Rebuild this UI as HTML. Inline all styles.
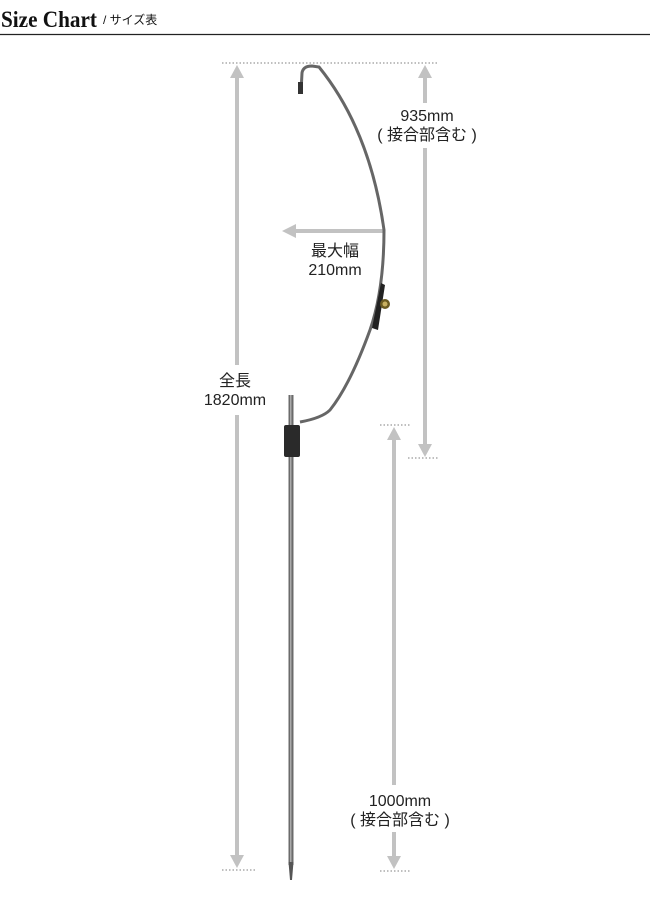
<!DOCTYPE html>
<html><head><meta charset="utf-8"><style>
html,body{margin:0;padding:0;background:#fff;width:650px;height:900px;overflow:hidden}
</style></head><body>
<svg width="650" height="900" viewBox="0 0 650 900" xmlns="http://www.w3.org/2000/svg">
<text x="1" y="27" font-family="Liberation Serif, serif" font-size="23" font-weight="bold" textLength="96" lengthAdjust="spacingAndGlyphs" fill="#111">Size Chart</text>
<text x="103" y="24" font-family="Liberation Sans, 'Noto Sans CJK JP', sans-serif" font-size="12" fill="#111">/ サイズ表</text>
<line x1="0" y1="34.5" x2="650" y2="34.5" stroke="#222" stroke-width="1.2"/>
<g stroke="#999" stroke-width="1.2" stroke-dasharray="1.5 2">
<line x1="222" y1="63" x2="438" y2="63"/>
<line x1="222" y1="870" x2="255" y2="870"/>
<line x1="408" y1="458" x2="438" y2="458"/>
<line x1="380" y1="425" x2="410" y2="425"/>
<line x1="380" y1="871" x2="410" y2="871"/>
</g>
<g stroke="#c2c2c2" stroke-width="4" fill="none">
<line x1="237" y1="76" x2="237" y2="365"/>
<line x1="237" y1="415" x2="237" y2="860"/>
<line x1="425" y1="76" x2="425" y2="103"/>
<line x1="425" y1="148" x2="425" y2="448"/>
<line x1="394" y1="435" x2="394" y2="785"/>
<line x1="394" y1="832" x2="394" y2="860"/>
<line x1="294" y1="231" x2="385" y2="231"/>
</g>
<g fill="#c2c2c2">
<polygon points="237,65 230,78 244,78"/>
<polygon points="237,868 230,855 244,855"/>
<polygon points="425,65 418,78 432,78"/>
<polygon points="425,457 418,444 432,444"/>
<polygon points="394,427 387,440 401,440"/>
<polygon points="394,869 387,856 401,856"/>
<polygon points="282,231 296,224 296,238"/>
</g>
<g font-family="Liberation Sans, 'Noto Sans CJK JP', sans-serif" font-size="16" fill="#222" text-anchor="middle">
<text x="427" y="121">935mm</text>
<text x="427" y="140">( 接合部含む )</text>
<text x="335" y="256">最大幅</text>
<text x="335" y="275">210mm</text>
<text x="235" y="386">全長</text>
<text x="235" y="405">1820mm</text>
<text x="400" y="806">1000mm</text>
<text x="400" y="825">( 接合部含む )</text>
</g>
<path d="M301,92 L302,73 Q303,66 312,66 L319,67 Q370,130 384,230 Q384,290 370,330 Q350,385 330,410 Q322,418 300,422" stroke="#666" stroke-width="3" fill="none"/>
<rect x="298" y="82" width="5" height="12" fill="#333"/>
<rect x="288.5" y="395" width="5" height="470" fill="#6b6b6b"/>
<rect x="290" y="395" width="1.5" height="470" fill="#aaa"/>
<polygon points="288.5,862 293.5,862 292,880 290,880" fill="#555"/>
<rect x="284" y="425" width="16" height="32" rx="2" fill="#2a2a2a"/>
<path d="M381,283 L385,285 L378,330 L372,328 Z" fill="#222"/>
<circle cx="385" cy="304" r="5" fill="#6a5a20"/>
<circle cx="385" cy="304" r="2.5" fill="#c8b060"/>
</svg>
</body></html>
